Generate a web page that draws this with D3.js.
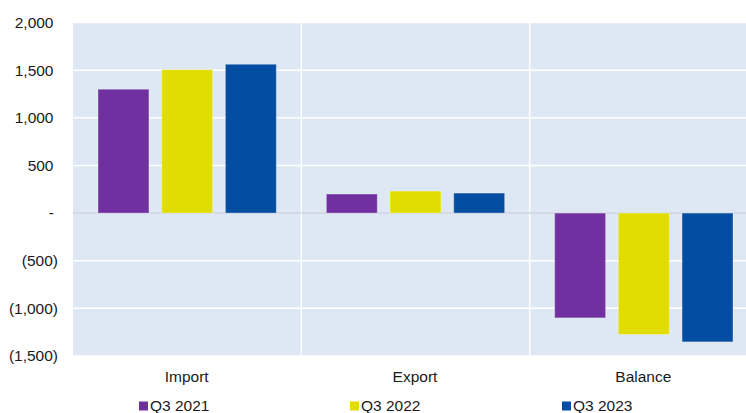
<!DOCTYPE html>
<html><head><meta charset="utf-8">
<script src="https://cdn.jsdelivr.net/npm/d3@7"></script>
<style>body{margin:0;background:#fff;overflow:hidden}svg{display:block}text{font-family:"Liberation Sans",Arial,sans-serif;fill:#1a1a1a}</style>
</head><body>
<script>
const categories = ["Import", "Export", "Balance"];
const seriesNames = ["Q3 2021", "Q3 2022", "Q3 2023"];
const q3_2021 = [1300, 200, -1100];
const q3_2022 = [1505, 231, -1274];
const q3_2023 = [1562, 210, -1352];
const seriesValues = [q3_2021, q3_2022, q3_2023];
const seriesColors = ["#7030a0", "#e1dd00", "#034ea2"];
const yTicks = [2000, 1500, 1000, 500, 0, -500, -1000, -1500];

const W = 746, H = 413;
const mLeft = 73, mRight = 758, mTop = 22.5, mBottom = 356;
const svg = d3.select("body").append("svg").attr("width", W).attr("height", H);

const y = d3.scaleLinear().domain([-1500, 2000]).range([mBottom, mTop]);
const x0 = d3.scaleBand().domain(categories).range([mLeft, mRight]).paddingInner(0).paddingOuter(0);
const x1 = d3.scaleBand().domain(seriesNames).range([25, x0.bandwidth() - 25]).paddingInner(0.2).paddingOuter(0);

svg.append("rect").attr("x", mLeft).attr("y", mTop).attr("width", mRight - mLeft).attr("height", mBottom - mTop).attr("fill", "#dde8f4");

// horizontal grid
svg.append("g").selectAll("line").data(yTicks.filter(d => d !== 0)).join("line")
  .attr("x1", mLeft).attr("x2", mRight).attr("y1", d => y(d)).attr("y2", d => y(d))
  .attr("stroke", "#fff").attr("stroke-width", 1.5);
// vertical grid at band boundaries
svg.append("g").selectAll("line").data(categories.slice(1)).join("line")
  .attr("x1", d => x0(d)).attr("x2", d => x0(d)).attr("y1", mTop).attr("y2", mBottom)
  .attr("stroke", "#fff").attr("stroke-width", 1.5);
// zero line
svg.append("line").attr("x1", mLeft).attr("x2", mRight).attr("y1", y(0)).attr("y2", y(0))
  .attr("stroke", "#cfd6de").attr("stroke-width", 1.5);

// bars
seriesNames.forEach((s, si) => {
  svg.append("g").selectAll("rect").data(categories).join("rect")
    .attr("x", (c) => x0(c) + x1(s))
    .attr("width", x1.bandwidth())
    .attr("y", (c, i) => Math.min(y(seriesValues[si][i]), y(0)))
    .attr("height", (c, i) => Math.abs(y(seriesValues[si][i]) - y(0)))
    .attr("fill", seriesColors[si])
    .attr("stroke", "rgba(255,255,255,0.35)").attr("stroke-width", 1);
});

// y axis labels (accounting format)
const fmt = d3.format(",");
svg.append("g").selectAll("text").data(yTicks).join("text")
  .attr("x", d => d < 0 ? 58 : (d === 0 ? 54 : 53.5))
  .attr("y", d => y(d))
  .attr("dy", "0.35em")
  .attr("text-anchor", "end")
  .attr("font-size", "15.5px")
  .text(d => d === 0 ? "-" : (d < 0 ? "(" + fmt(-d) + ")" : fmt(d)));

// category labels
svg.append("g").selectAll("text").data(categories).join("text")
  .attr("x", d => x0(d) + x0.bandwidth() / 2 - 0.5)
  .attr("y", 377).attr("dy", "0.35em")
  .attr("text-anchor", "middle").attr("font-size", "15.5px")
  .text(d => d);

// legend
const legendX = [139, 350, 562];
const lg = svg.append("g").selectAll("g").data(seriesNames).join("g")
  .attr("transform", (d, i) => `translate(${legendX[i]},405.5)`);
lg.append("rect").attr("x", 0).attr("y", -4).attr("width", 9).attr("height", 9).attr("fill", (d, i) => seriesColors[i]);
lg.append("text").attr("x", 11).attr("y", 0).attr("dy", "0.35em").attr("font-size", "15.5px").text(d => d);
</script>
</body></html>
